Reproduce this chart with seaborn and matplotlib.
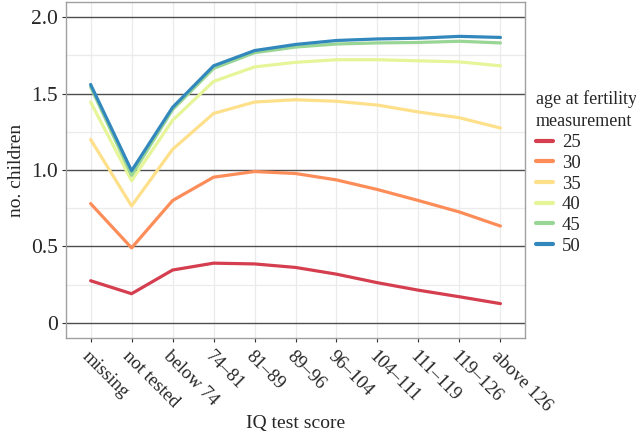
import matplotlib
matplotlib.use("Agg")
import matplotlib.pyplot as plt
import seaborn as sns
import pandas as pd
import numpy as np
from matplotlib.ticker import MultipleLocator

categories = ["missing", "not tested", "below 74", "74\u201381", "81\u201389", "89\u201396",
              "96\u2013104", "104\u2013111", "111\u2013119", "119\u2013126", "above 126"]
ages = ["25", "30", "35", "40", "45", "50"]
v25 = [0.275, 0.19, 0.345, 0.39, 0.385, 0.362, 0.318, 0.262, 0.213, 0.17, 0.125]
v30 = [0.78, 0.49, 0.80, 0.953, 0.99, 0.977, 0.935, 0.872, 0.80, 0.725, 0.633]
v35 = [1.20, 0.765, 1.135, 1.37, 1.445, 1.46, 1.45, 1.425, 1.38, 1.342, 1.275]
v40 = [1.445, 0.93, 1.325, 1.58, 1.675, 1.705, 1.722, 1.722, 1.715, 1.708, 1.682]
v45 = [1.545, 0.965, 1.395, 1.665, 1.768, 1.805, 1.825, 1.832, 1.835, 1.843, 1.832]
v50 = [1.56, 0.995, 1.41, 1.682, 1.782, 1.822, 1.848, 1.858, 1.863, 1.875, 1.868]

series = [v25, v30, v35, v40, v45, v50]
rows = []
for a, vals in zip(ages, series):
    for i, (c, v) in enumerate(zip(categories, vals)):
        rows.append({"pos": i, "score": c, "age": a, "children": v})
df = pd.DataFrame(rows)

colors = ["#d53e4f", "#fc8d59", "#fee08b", "#e6f598", "#99d594", "#3288bd"]

sns.set_style("white")
plt.rcParams["font.family"] = ["Liberation Serif", "DejaVu Serif"]

fig = plt.figure(figsize=(6.36, 4.34), dpi=100)
ax = fig.add_axes([0.1038, 0.2212, 0.8255 - 0.1038, 0.9954 - 0.2212])

sns.lineplot(data=df, x="pos", y="children", hue="age", palette=colors,
             linewidth=2.3, ax=ax, legend=True, zorder=3)

ax.set_xlim(-0.6, len(categories) - 1 + 0.6)
ax.set_ylim(-0.1, 2.1)
ax.set_xticks(range(len(categories)))
ax.set_xticklabels(categories, rotation=-45, ha="left", va="top",
                   rotation_mode="anchor", fontsize=13.5)
ax.set_yticks([0, 0.5, 1.0, 1.5, 2.0])
ax.set_yticklabels(["0", "0.5", "1.0", "1.5", "2.0"], fontsize=15.5)
ax.yaxis.set_minor_locator(MultipleLocator(0.25))

ax.grid(True, axis="x", which="major", color="#ebebeb", linewidth=0.9, zorder=0)
ax.grid(True, axis="y", which="minor", color="#ebebeb", linewidth=0.9, zorder=0)
ax.grid(True, axis="y", which="major", color="#4d4d4d", linewidth=1.0, zorder=1)
ax.set_axisbelow(True)

ax.tick_params(axis="both", which="major", length=3, width=0.8, color="#333333",
               pad=3, bottom=True, left=True)
ax.tick_params(axis="y", which="minor", length=0)
ax.tick_params(axis="x", pad=4)

for s in ax.spines.values():
    s.set_color("#a0a0a0")
    s.set_linewidth(1.0)

ax.set_xlabel("IQ test score", fontsize=14, labelpad=0)
ax.set_ylabel("no. children", fontsize=14, labelpad=4)

leg = ax.legend(title="age at fertility\nmeasurement", loc="upper left",
                bbox_to_anchor=(0.995, 0.778), frameon=False, fontsize=13.5,
                title_fontsize=13, handlelength=0.9, handletextpad=0.5,
                labelspacing=0.19, borderaxespad=0.3)
leg._legend_box.align = "left"
leg.get_title().set_linespacing(1.45)
for line in leg.get_lines():
    line.set_linewidth(3)

fig.savefig("out.png", dpi=100)
